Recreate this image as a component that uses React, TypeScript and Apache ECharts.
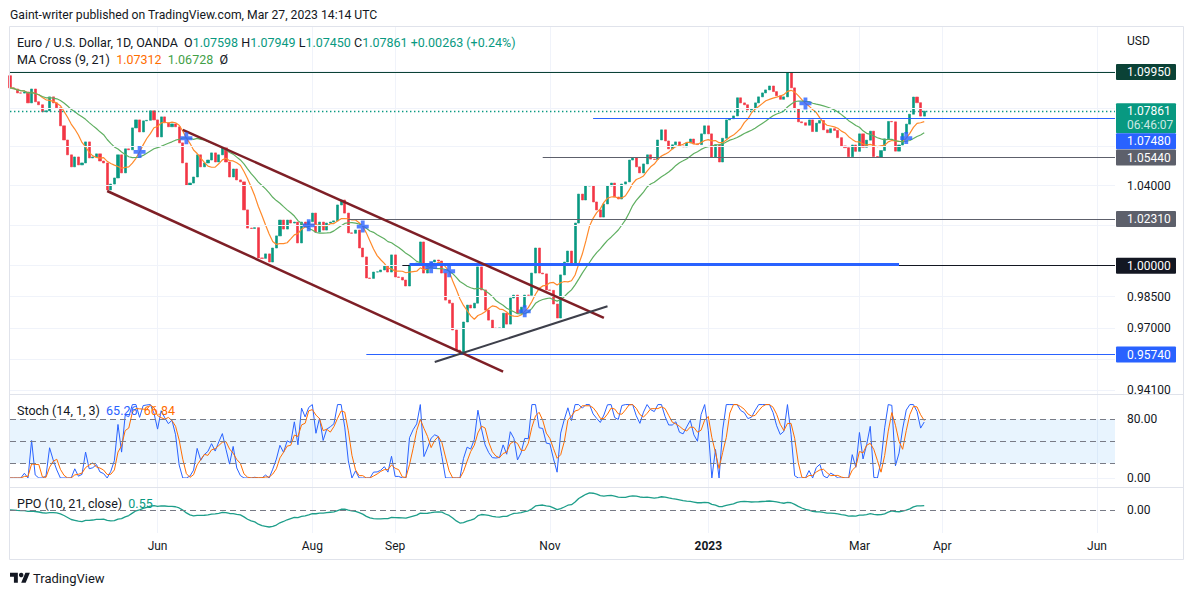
import React, { useEffect, useRef } from "react";
import * as echarts from "echarts";

// ---------------- data ----------------
const firstBarDate = "2022-04-05";
const slotCount = 308;
const firstOpen = 1.0975;
const closes = [
  1.0910, 1.0904, 1.0883, 1.0882, 1.0888, 1.0830, 1.0904, 1.0836, 1.0820, 1.0783,
  1.0788, 1.0862, 1.0830, 1.0804, 1.0709, 1.0635, 1.0558, 1.0496, 1.0547, 1.0506,
  1.0516, 1.0625, 1.0542, 1.0547, 1.0563, 1.0526, 1.0516, 1.0378, 1.0408, 1.0439,
  1.0558, 1.0465, 1.0589, 1.0584, 1.0698, 1.0740, 1.0677, 1.0735, 1.0738, 1.0788,
  1.0740, 1.0651, 1.0756, 1.0725, 1.0704, 1.0719, 1.0704, 1.0620, 1.0516, 1.0403,
  1.0413, 1.0444, 1.0558, 1.0496, 1.0516, 1.0531, 1.0568, 1.0521, 1.0558, 1.0594,
  1.0521, 1.0444, 1.0485, 1.0429, 1.0419, 1.0277, 1.0186, 1.0184, 1.0188, 1.0038,
  1.0036, 1.0058, 1.0018, 1.0087, 1.0147, 1.0226, 1.0181, 1.0226, 1.0211, 1.0216,
  1.0112, 1.0216, 1.0191, 1.0218, 1.0261, 1.0166, 1.0216, 1.0176, 1.0211, 1.0216,
  1.0222, 1.0302, 1.0327, 1.0261, 1.0162, 1.0160, 1.0176, 1.0087, 1.0043, 0.9940,
  0.9938, 0.9969, 0.9970, 0.9979, 0.9998, 0.9969, 1.0053, 0.9945, 0.9943, 0.9930,
  0.9901, 1.0003, 1.0001, 1.0013, 1.0117, 0.9964, 0.9989, 1.0018, 1.0028, 1.0023,
  0.9964, 0.9833, 0.9818, 0.9690, 0.9595, 0.9586, 0.9728, 0.9809, 0.9795, 0.9818,
  0.9994, 0.9882, 0.9785, 0.9737, 0.9699, 0.9697, 0.9700, 0.9770, 0.9718, 0.9843,
  0.9857, 0.9770, 0.9799, 0.9857, 0.9856, 0.9964, 1.0087, 0.9964, 0.9960, 0.9882,
  0.9880, 0.9814, 0.9747, 0.9955, 1.0018, 1.0072, 1.0013, 1.0211, 1.0357, 1.0327,
  1.0398, 1.0400, 1.0317, 1.0277, 1.0241, 1.0307, 1.0398, 1.0413, 1.0342, 1.0332,
  1.0408, 1.0419, 1.0531, 1.0542, 1.0496, 1.0465, 1.0511, 1.0558, 1.0536, 1.0534,
  1.0635, 1.0688, 1.0630, 1.0589, 1.0610, 1.0625, 1.0604, 1.0599, 1.0620, 1.0640,
  1.0615, 1.0611, 1.0667, 1.0709, 1.0667, 1.0547, 1.0610, 1.0521, 1.0644, 1.0740,
  1.0746, 1.0761, 1.0857, 1.0830, 1.0820, 1.0793, 1.0799, 1.0830, 1.0862, 1.0883,
  1.0899, 1.0920, 1.0890, 1.0868, 1.0849, 1.0862, 1.0990, 1.0910, 1.0799, 1.0730,
  1.0725, 1.0712, 1.0740, 1.0679, 1.0723, 1.0737, 1.0688, 1.0673, 1.0694, 1.0685,
  1.0647, 1.0604, 1.0595, 1.0548, 1.0609, 1.0576, 1.0667, 1.0597, 1.0634, 1.0681,
  1.0549, 1.0546, 1.0580, 1.0641, 1.0732, 1.0730, 1.0577, 1.0609, 1.0670, 1.0718,
  1.0770, 1.0861, 1.0831, 1.0760, 1.07861,
];

const gridTicks = [1.1, 1.08, 1.06, 1.04, 1.02, 1.0, 0.985, 0.97, 0.955, 0.941];
const labelledTicks = [1.04, 0.985, 0.97, 0.941];
const xTickDates = ["2022-06-01", "2022-08-01", "2022-09-01", "2022-11-01", "2023-01-02", "2023-03-01", "2023-04-03", "2023-06-01"];
const xTickLabels = ["Jun", "Aug", "Sep", "Nov", "2023", "Mar", "Apr", "Jun"];

const levelPrices = [1.0995, 1.0748, 1.0544, 1.0231, 1.0, 0.9574];
const levelStarts = ["", "2022-11-17", "2022-10-28", "2022-08-15", "2022-09-05", "2022-08-22"];
const parityZonePrice = 1.0007;
const parityZoneDates = ["2022-09-07", "2023-03-16"];
const upperChannel: [string, number][] = [["2022-06-10", 1.06882], ["2022-11-22", 0.97476]];
const lowerChannel: [string, number][] = [["2022-05-12", 1.03726], ["2022-10-13", 0.94941]];
const supportLine: [string, number][] = [["2022-09-16", 0.95393], ["2022-11-23", 0.98036]];

const countdown = "06:46:07";
const ohlcLegend = ["1.07598", "1.07949", "1.07450", "1.07861"];
const changeLegend = "+0.00263 (+0.24%)";
const maLegend = ["1.07312", "1.06728"];
const stochLegend = ["65.26", "66.84"];
const ppoLegend = "0.55";
const stochLevels = [80, 50, 20];

// ---------------- styling ----------------
const FONT = "Roboto, 'Noto Sans', 'DejaVu Sans', sans-serif";
const TEXT = "#131722";
const UP = "#089981";
const DOWN = "#F23645";
const BLUE = "#2962FF";
const GRID = "#f0f3fa";
const ORANGE = "#FF6D00";
const MA_FAST = "#FF8A2B";
const MA_SLOW = "#5FAF61";

echarts.graphic.registerShape(
  "tvlogo",
  echarts.graphic.extendPath("M14 22H7V11H0V4h14v18zM28 22h-8l7.5-18h8L28 22z", {})
);

function buildDates(start: string, n: number) {
  const out: string[] = [];
  const d = new Date(start + "T00:00:00Z");
  while (out.length < n) {
    const wd = d.getUTCDay();
    if (wd !== 0 && wd !== 6) out.push(d.toISOString().slice(0, 10));
    d.setUTCDate(d.getUTCDate() + 1);
  }
  return out;
}

function sma(vals: number[], n: number) {
  return vals.map((_, i) => {
    const s = Math.max(0, i - n + 1);
    let t = 0;
    for (let k = s; k <= i; k++) t += vals[k];
    return t / (i - s + 1);
  });
}

function ema(vals: number[], n: number) {
  const k = 2 / (n + 1);
  const out: number[] = [];
  vals.forEach((v, i) => out.push(i === 0 ? v : out[i - 1] + k * (v - out[i - 1])));
  return out;
}

const L = Math.log;

function buildModel() {
  const dates = buildDates(firstBarDate, slotCount);
  const opens = closes.map((c, i) => (i === 0 ? firstOpen : closes[i - 1]));
  const highs = closes.map((c, i) => Math.max(c, opens[i]));
  const lows = closes.map((c, i) => Math.min(c, opens[i]));
  const candles = closes.map((c, i) => [L(opens[i]), L(c), L(lows[i]), L(highs[i])]);
  const fast = sma(closes, 9);
  const slow = sma(closes, 21);
  const crosses: [number, number][] = [];
  for (let i = 1; i < closes.length; i++) {
    const a = fast[i - 1] - slow[i - 1];
    const b = fast[i] - slow[i];
    if (a !== 0 && b !== 0 && Math.sign(a) !== Math.sign(b)) crosses.push([i, L(fast[i])]);
  }
  const k = closes.map((c, i) => {
    const s = Math.max(0, i - 13);
    let hi = -Infinity, lo = Infinity;
    for (let j = s; j <= i; j++) { hi = Math.max(hi, highs[j]); lo = Math.min(lo, lows[j]); }
    return hi === lo ? 50 : (100 * (c - lo)) / (hi - lo);
  });
  const d = sma(k, 3);
  const e10 = ema(closes, 10);
  const e21 = ema(closes, 21);
  const ppo = closes.map((_, i) => ((e10[i] - e21[i]) / e21[i]) * 100);
  return { dates, candles, fast, slow, crosses, k, d, ppo };
}

function buildOption(m: ReturnType<typeof buildModel>) {
  const { dates } = m;
  const lastDate = dates[dates.length - 1];
  const tickIdx = new Set(xTickDates.map((t) => dates.indexOf(t)));
  const labelOf: Record<string, string> = {};
  xTickDates.forEach((t, i) => (labelOf[t] = xTickLabels[i]));
  const ppoAbs = Math.max(...m.ppo.map((v) => Math.abs(v)));
  const ppoRange = ppoAbs * 1.35;
  const lastClose = closes[closes.length - 1];

  const xAxes = [0, 1, 2].map((g) => ({
    type: "category",
    gridIndex: g,
    data: dates,
    boundaryGap: false,
    axisLine: { show: false },
    axisTick: { show: false },
    axisLabel: {
      show: g === 2,
      interval: (i: number) => tickIdx.has(i),
      formatter: (v: string) => {
        const t = labelOf[v];
        if (!t) return "";
        return /^\d{4}$/.test(t) ? `{y|${t}}` : t;
      },
      color: TEXT,
      fontSize: 12,
      fontFamily: FONT,
      margin: 7,
      rich: { y: { fontWeight: "bold", fontSize: 12, color: TEXT, fontFamily: FONT } },
    },
    splitLine: { show: true, interval: (i: number) => tickIdx.has(i), lineStyle: { color: GRID, width: 1 } },
  }));

  const endLabel = { show: true, position: "end", distance: 12, color: TEXT, fontSize: 12, fontFamily: FONT };
  const dash = { color: "#787b86", width: 1, type: [6, 4] };

  const seg = (a: [string, number], b: [string, number], style: any) => [
    { coord: [a[0], L(a[1])], lineStyle: style },
    { coord: [b[0], L(b[1])] },
  ];
  const ray = (from: string, price: number, style: any) => [
    { coord: [from, L(price)], lineStyle: style },
    { coord: [lastDate, L(price)] },
  ];
  const levelColors = ["#0b4236", BLUE, "#5d606b", "#5d606b", "#131722", BLUE];

  const drawings: any[] = [
    { yAxis: L(levelPrices[0]), lineStyle: { color: levelColors[0], width: 1, type: "solid" } },
    { yAxis: L(lastClose), lineStyle: { color: UP, width: 1.4, type: [1.4, 2.6] } },
  ];
  for (let i = 1; i < levelPrices.length; i++) {
    drawings.push(ray(levelStarts[i], levelPrices[i], { color: levelColors[i], width: 1, type: "solid" }));
  }
  drawings.push(seg([parityZoneDates[0], parityZonePrice], [parityZoneDates[1], parityZonePrice], { color: BLUE, width: 3, type: "solid" }));
  drawings.push(seg(upperChannel[0], upperChannel[1], { color: "#7e1f26", width: 2.5, type: "solid" }));
  drawings.push(seg(lowerChannel[0], lowerChannel[1], { color: "#7e1f26", width: 2.5, type: "solid" }));
  drawings.push(seg(supportLine[0], supportLine[1], { color: "#3d3f4a", width: 2, type: "solid" }));

  return {
    animation: false,
    backgroundColor: "#ffffff",
    textStyle: { fontFamily: FONT },
    grid: [
      { left: 10, right: 79, top: 26, height: 368 },
      { left: 10, right: 79, top: 394, height: 93 },
      { left: 10, right: 79, top: 487, height: 46 },
    ],
    xAxis: xAxes,
    yAxis: [
      { type: "value", gridIndex: 0, min: L(0.9391), max: L(1.12455), show: false },
      { type: "value", gridIndex: 1, min: -12.3, max: 114.4, show: false },
      { type: "value", gridIndex: 2, min: -ppoRange, max: ppoRange, show: false },
    ],
    series: [
      {
        type: "line", xAxisIndex: 0, yAxisIndex: 0, data: [], silent: true, z: 1,
        markLine: {
          silent: true, symbol: ["none", "none"], animation: false, precision: 12,
          lineStyle: { color: GRID, width: 1, type: "solid" },
          label: endLabel,
          data: gridTicks.map((t) => ({
            yAxis: L(t),
            label: { show: labelledTicks.includes(t), formatter: t.toFixed(5) },
          })),
        },
      },
      {
        type: "candlestick", xAxisIndex: 0, yAxisIndex: 0, data: m.candles, barWidth: 2.6, z: 3, silent: true,
        itemStyle: { color: UP, color0: DOWN, borderColor: UP, borderColor0: DOWN, borderWidth: 0.6 },
      },
      { type: "line", xAxisIndex: 0, yAxisIndex: 0, data: m.fast.map(L), showSymbol: false, silent: true, z: 4, lineStyle: { color: MA_FAST, width: 1.2 } },
      { type: "line", xAxisIndex: 0, yAxisIndex: 0, data: m.slow.map(L), showSymbol: false, silent: true, z: 4, lineStyle: { color: MA_SLOW, width: 1.2 } },
      {
        type: "line", xAxisIndex: 0, yAxisIndex: 0, data: [], silent: true, z: 5,
        markLine: { silent: true, symbol: ["none", "none"], animation: false, precision: 12, label: { show: false }, data: drawings },
      },
      {
        type: "scatter", xAxisIndex: 0, yAxisIndex: 0, data: m.crosses, silent: true, z: 6,
        symbol: "path://M3.4,0h3.2v3.4h3.4v3.2h-3.4v3.4h-3.2v-3.4h-3.4v-3.2h3.4z",
        symbolSize: 12, itemStyle: { color: BLUE },
      },
      {
        type: "line", xAxisIndex: 1, yAxisIndex: 1, data: m.k, showSymbol: false, silent: true, z: 3,
        lineStyle: { color: BLUE, width: 1 },
        markArea: { silent: true, itemStyle: { color: "rgba(33,150,243,0.1)" }, data: [[{ yAxis: 20 }, { yAxis: 80 }]] },
        markLine: {
          silent: true, symbol: ["none", "none"], animation: false, precision: 12, label: endLabel,
          data: [
            ...stochLevels.map((v) => ({ yAxis: v, lineStyle: dash, label: { show: v === 80, formatter: v.toFixed(2) } })),
            { yAxis: 0, lineStyle: { color: GRID, width: 1, type: "solid" }, label: { show: true, formatter: "0.00" } },
          ],
        },
      },
      { type: "line", xAxisIndex: 1, yAxisIndex: 1, data: m.d, showSymbol: false, silent: true, z: 4, lineStyle: { color: ORANGE, width: 1 } },
      {
        type: "line", xAxisIndex: 2, yAxisIndex: 2, data: m.ppo, showSymbol: false, silent: true, z: 3,
        lineStyle: { color: "#1e9e8a", width: 1.3 },
        markLine: {
          silent: true, symbol: ["none", "none"], animation: false, precision: 12, label: endLabel,
          data: [{ yAxis: 0, lineStyle: dash, label: { show: true, formatter: "0.00" } }],
        },
      },
    ],
  };
}

function buildGraphics(chart: any) {
  const lastClose = closes[closes.length - 1];
  const yPx = (p: number) => chart.convertToPixel({ yAxisIndex: 0 }, L(p)) as number;
  const boxColors = ["#0b4236", BLUE, "#5d606b", "#5d606b", "#131722", BLUE];
  const boxes: any[] = levelPrices.map((p, i) => ({ price: p, lines: [p.toFixed(5)], bg: boxColors[i] }));
  boxes.push({ price: lastClose, lines: [lastClose.toFixed(5), countdown], bg: UP });
  boxes.forEach((b) => (b.y = yPx(b.price)));
  boxes.sort((a, b) => a.y - b.y);
  let prevBottom = -Infinity;
  const els: any[] = [];
  boxes.forEach((b) => {
    const h = b.lines.length === 2 ? 30 : 16;
    let top = b.y - 8;
    if (top < prevBottom) top = prevBottom;
    prevBottom = top + h;
    els.push({ type: "rect", z: 100, silent: true, shape: { x: 1116, y: top, width: 60, height: h, r: 1 }, style: { fill: b.bg } });
    b.lines.forEach((t: string, li: number) => {
      els.push({
        type: "text", z: 101, silent: true, x: 1127, y: top + 8 + li * 14,
        style: { text: t, fill: li === 0 ? "#ffffff" : "rgba(255,255,255,0.8)", fontSize: 12, fontFamily: FONT, verticalAlign: "middle" },
      });
    });
  });

  const t = (x: number, y: number, text: string, rich: any, size = 12.5) => ({
    type: "text", z: 100, silent: true, x, y,
    style: { text, rich, fontSize: size, fontFamily: FONT, fill: TEXT, verticalAlign: "middle" },
  });
  const mk = (size: number) => {
    const base = { fill: TEXT, fontSize: size, fontFamily: FONT };
    return {
      t: base,
      v: { ...base, fill: UP },
      o: { ...base, fill: ORANGE },
      g: { ...base, fill: "#43A047" },
      b: { ...base, fill: BLUE },
    };
  };
  const rich = mk(12.5);

  els.push(t(10, 15, "{t|Gaint-writer published on TradingView.com, Mar 27, 2023 14:14 UTC}", mk(12.2), 12.2));
  els.push(
    t(17, 42,
      `{t|Euro / U.S. Dollar, 1D, OANDA}  {t|O}{v|${ohlcLegend[0]}} {t|H}{v|${ohlcLegend[1]}} {t|L}{v|${ohlcLegend[2]}} {t|C}{v|${ohlcLegend[3]}} {v|${changeLegend}}`,
      rich)
  );
  els.push(t(17, 59, `{t|MA Cross (9, 21)}  {o|${maLegend[0]}}  {g|${maLegend[1]}}  {t|Ø}`, rich));
  els.push(t(1127, 41, "{t|USD}", mk(12), 12));
  els.push(t(17, 410, `{t|Stoch (14, 1, 3)}  {b|${stochLegend[0]}}  {o|${stochLegend[1]}}`, rich));
  els.push(t(17, 503, `{t|PPO (10, 21, close)}  {v|${ppoLegend}}`, rich));

  const sep = "#e0e3eb";
  els.push({ type: "rect", z: 99, silent: true, shape: { x: 9.5, y: 26.5, width: 1174, height: 533 }, style: { fill: "none", stroke: sep, lineWidth: 1 } });
  els.push({ type: "line", z: 99, silent: true, shape: { x1: 10, y1: 394.5, x2: 1184, y2: 394.5 }, style: { stroke: sep, lineWidth: 1 } });
  els.push({ type: "line", z: 99, silent: true, shape: { x1: 10, y1: 487.5, x2: 1184, y2: 487.5 }, style: { stroke: sep, lineWidth: 1 } });

  els.push({ type: "tvlogo", z: 100, silent: true, x: 10, y: 570.5, scaleX: 0.56, scaleY: 0.56, style: { fill: TEXT } });
  els.push({ type: "circle", z: 100, silent: true, shape: { cx: 10 + 20 * 0.56, cy: 570.5 + 8 * 0.56, r: 4 * 0.56 }, style: { fill: TEXT } });
  els.push({ type: "text", z: 100, silent: true, x: 33, y: 578, style: { text: "TradingView", fill: TEXT, fontSize: 13, fontFamily: FONT, verticalAlign: "middle" } });
  return els;
}

export default function App() {
  const ref = useRef<HTMLDivElement>(null);
  useEffect(() => {
    if (!ref.current) return;
    const chart = echarts.init(ref.current, null, { renderer: "svg" });
    const model = buildModel();
    chart.setOption(buildOption(model) as any);
    chart.setOption({ graphic: { elements: buildGraphics(chart) } } as any);
    return () => chart.dispose();
  }, []);
  return (
    <div
      ref={ref}
      style={{ position: "fixed", left: 0, top: 0, width: 1194, height: 595, background: "#ffffff" }}
    />
  );
}
